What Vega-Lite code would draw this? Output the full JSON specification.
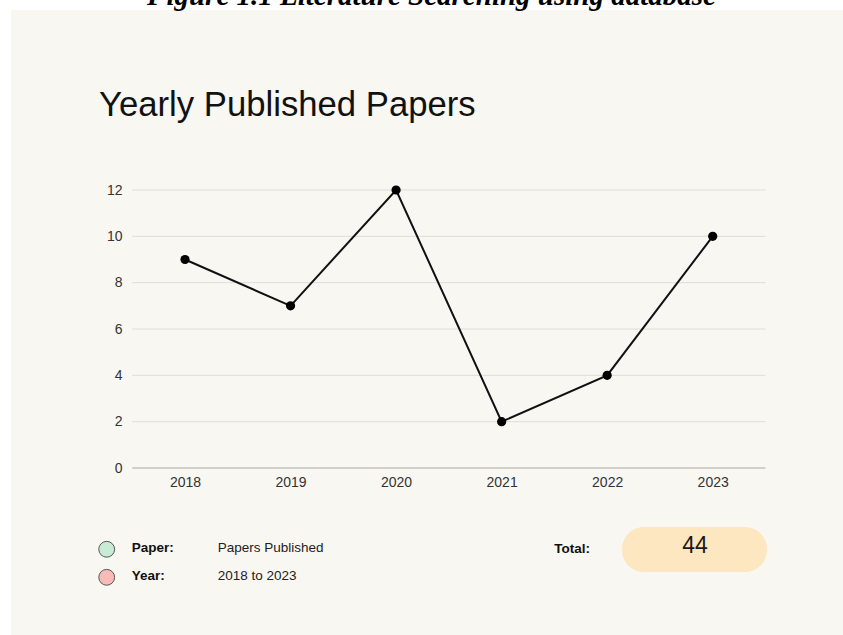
{
  "$schema": "https://vega.github.io/schema/vega-lite/v6.json",
  "width": 832,
  "height": 625,
  "autosize": "none",
  "padding": {"left": 11, "top": 10, "right": 0, "bottom": 0},
  "background": "#ffffff",
  "view": {"fill": "#f8f7f2", "stroke": null},
  "datasets": {
    "papers": [
      {"Year": 2018, "Papers": 9},
      {"Year": 2019, "Papers": 7},
      {"Year": 2020, "Papers": 12},
      {"Year": 2021, "Papers": 2},
      {"Year": 2022, "Papers": 4},
      {"Year": 2023, "Papers": 10}
    ],
    "grid": [{"v": 2}, {"v": 4}, {"v": 6}, {"v": 8}, {"v": 10}, {"v": 12}]
  },
  "layer": [
    {
      "data": {"name": "grid"},
      "mark": {"type": "rule", "color": "#deddd7", "strokeWidth": 1},
      "encoding": {
        "y": {
          "field": "v",
          "type": "quantitative",
          "scale": {"domain": [-7.2086, 19.7698], "nice": false, "zero": false},
          "axis": {
            "values": [0, 2, 4, 6, 8, 10, 12],
            "title": null,
            "grid": false,
            "domain": false,
            "ticks": false,
            "tickSize": 0,
            "labelPadding": 2,
            "offset": -113,
            "labelFont": "Liberation Sans",
            "labelFontSize": 14,
            "labelColor": "#333333"
          }
        },
        "x": {
          "datum": 2017.5,
          "type": "quantitative",
          "scale": {"domain": [2016.3513, 2024.2346], "nice": false, "zero": false},
          "axis": {
            "values": [2018, 2019, 2020, 2021, 2022, 2023],
            "format": "d",
            "title": null,
            "grid": false,
            "domain": false,
            "ticks": false,
            "tickSize": 0,
            "labelPadding": 0,
            "labelBaseline": "alphabetic",
            "offset": -148.5,
            "labelFont": "Liberation Sans",
            "labelFontSize": 14,
            "labelColor": "#333333"
          }
        },
        "x2": {"datum": 2023.5}
      }
    },
    {
      "data": {"values": [{}]},
      "mark": {"type": "rule", "color": "#a8a8a6", "strokeWidth": 1},
      "encoding": {
        "y": {"datum": 0},
        "x": {"datum": 2017.5},
        "x2": {"datum": 2023.5}
      }
    },
    {
      "data": {"name": "papers"},
      "mark": {"type": "line", "color": "#111111", "strokeWidth": 2},
      "encoding": {
        "x": {"field": "Year", "type": "quantitative"},
        "y": {"field": "Papers", "type": "quantitative"}
      }
    },
    {
      "data": {"name": "papers"},
      "mark": {"type": "point", "filled": true, "color": "#000000", "size": 85, "opacity": 1},
      "encoding": {
        "x": {"field": "Year", "type": "quantitative"},
        "y": {"field": "Papers", "type": "quantitative"}
      }
    },
    {
      "data": {"values": [{"label": "Figure 1.1 Literature Searching using database"}]},
      "mark": {"type": "text", "align": "center", "baseline": "alphabetic", "font": "Liberation Serif", "fontSize": 29, "fontWeight": "bold", "fontStyle": "italic", "color": "#000000"},
      "encoding": {
        "x": {"datum": 2020.3356},
        "y": {"datum": 19.9856},
        "text": {"field": "label"}
      }
    },
    {
      "data": {"values": [{"label": "Yearly Published Papers"}]},
      "mark": {"type": "text", "align": "left", "baseline": "alphabetic", "font": "Liberation Sans", "fontSize": 34.7, "color": "#111111"},
      "encoding": {
        "x": {"datum": 2017.1851},
        "y": {"datum": 15.194},
        "text": {"field": "label"}
      }
    },
    {
      "data": {"values": [{"item": "Paper"}]},
      "mark": {"type": "point", "filled": true, "fill": "#c8ebd6", "stroke": "#555555", "strokeWidth": 1, "size": 250, "opacity": 1},
      "encoding": {"x": {"datum": 2017.258}, "y": {"datum": -3.509}}
    },
    {
      "data": {"values": [{"item": "Year"}]},
      "mark": {"type": "point", "filled": true, "fill": "#f9bbb7", "stroke": "#555555", "strokeWidth": 1, "size": 250, "opacity": 1},
      "encoding": {"x": {"datum": 2017.258}, "y": {"datum": -4.718}}
    },
    {
      "data": {"values": [{"label": "Paper:"}]},
      "mark": {"type": "text", "align": "left", "baseline": "alphabetic", "font": "Liberation Sans", "fontSize": 13.5, "fontWeight": "bold", "color": "#111111"},
      "encoding": {"x": {"datum": 2017.4949}, "y": {"datum": -3.639}, "text": {"field": "label"}}
    },
    {
      "data": {"values": [{"label": "Year:"}]},
      "mark": {"type": "text", "align": "left", "baseline": "alphabetic", "font": "Liberation Sans", "fontSize": 13.5, "fontWeight": "bold", "color": "#111111"},
      "encoding": {"x": {"datum": 2017.4949}, "y": {"datum": -4.835}, "text": {"field": "label"}}
    },
    {
      "data": {"values": [{"label": "Papers Published"}]},
      "mark": {"type": "text", "align": "left", "baseline": "alphabetic", "font": "Liberation Sans", "fontSize": 13.5, "color": "#222222"},
      "encoding": {"x": {"datum": 2018.3098}, "y": {"datum": -3.639}, "text": {"field": "label"}}
    },
    {
      "data": {"values": [{"label": "2018 to 2023"}]},
      "mark": {"type": "text", "align": "left", "baseline": "alphabetic", "font": "Liberation Sans", "fontSize": 13.5, "color": "#222222"},
      "encoding": {"x": {"datum": 2018.3098}, "y": {"datum": -4.835}, "text": {"field": "label"}}
    },
    {
      "data": {"values": [{"label": "Total:"}]},
      "mark": {"type": "text", "align": "left", "baseline": "alphabetic", "font": "Liberation Sans", "fontSize": 13.5, "fontWeight": "bold", "color": "#111111"},
      "encoding": {"x": {"datum": 2021.4991}, "y": {"datum": -3.656}, "text": {"field": "label"}}
    },
    {
      "data": {"values": [{"total": 44}]},
      "mark": {"type": "rect", "color": "#fde7c0", "cornerRadius": 22},
      "encoding": {
        "x": {"datum": 2022.1406},
        "x2": {"datum": 2023.5145},
        "y": {"datum": -2.547},
        "y2": {"datum": -4.489}
      }
    },
    {
      "data": {"values": [{"total": 44}]},
      "mark": {"type": "text", "align": "center", "baseline": "alphabetic", "font": "Liberation Sans", "fontSize": 23, "color": "#1a1a1a"},
      "encoding": {"x": {"datum": 2022.8323}, "y": {"datum": -3.682}, "text": {"field": "total", "type": "quantitative"}}
    }
  ]
}
